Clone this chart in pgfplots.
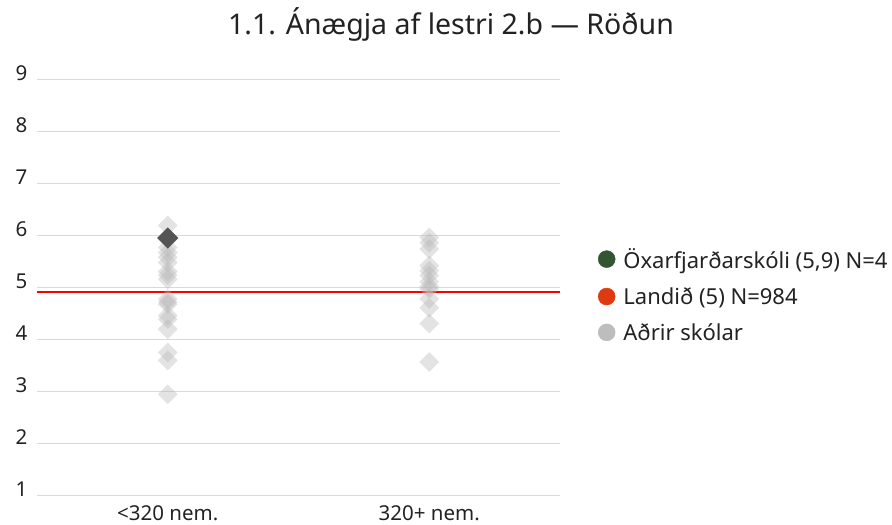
\documentclass[border=0pt]{standalone}
\usepackage{pgfplots}
\pgfplotsset{compat=1.18}
\usepackage{fontspec}
\setmainfont{Noto Sans}
\definecolor{txt}{HTML}{222222}
\definecolor{gridc}{HTML}{D9D9D9}
\definecolor{lightd}{HTML}{B8B8B8}
\definecolor{darkd}{HTML}{555555}
\definecolor{leggreen}{HTML}{335533}
\definecolor{legred}{HTML}{DD3A12}
\definecolor{leggray}{HTML}{BDBDBD}
\begin{document}
\begin{tikzpicture}
\path[use as bounding box] (-37pt,-29.3pt) rectangle (855pt,495.7pt);
\begin{axis}[
  at={(0pt,0pt)}, anchor=south west,
  scale only axis, width=523pt, height=416.4pt,
  xmin=-0.5, xmax=1.5, ymin=1, ymax=9,
  xtick={0,1}, xticklabels={<320 nem., 320+ nem.},
  ytick={1,2,3,4,5,6,7,8,9},
  ymajorgrids, grid style={gridc, line width=1.2pt},
  axis line style={draw=none}, tick style={draw=none},
  clip=false,
  ticklabel style={font=\fontsize{20.5}{24}\selectfont, text=txt},
  /pgf/number format/assume math mode=true,
  yticklabel style={anchor=base east, xshift=-6pt, yshift=-1pt},
  xticklabel style={anchor=base, inner sep=0pt, yshift=-25pt},
  legend style={at={(axis description cs:1.0665,0.604)}, anchor=north west,
    draw=none, fill=none, font=\fontsize{22}{26}\selectfont, text=txt,
    row sep=13.5pt, cells={anchor=west}},
  legend cell align=left,
]
\addlegendimage{legend image code/.code={\fill[leggreen] (0pt,0pt) circle (8.5pt); \path (14.5pt,0pt);}}
\addlegendentry{Öxarfjarðarskóli (5,9) N=4}
\addlegendimage{legend image code/.code={\fill[legred] (0pt,0pt) circle (8.5pt); \path (14.5pt,0pt);}}
\addlegendentry{Landið (5) N=984}
\addlegendimage{legend image code/.code={\fill[leggray] (0pt,0pt) circle (8.5pt); \path (14.5pt,0pt);}}
\addlegendentry{Aðrir skólar}
\addplot[forget plot, only marks, mark=square*, mark size=7pt, color=lightd,
  mark options={rotate=45, fill=lightd, draw opacity=0, fill opacity=0.4}]
  coordinates {
  (0,6.19) (0,5.77) (0,5.67) (0,5.58) (0,5.48) (0,5.31) (0,5.24) (0,5.16)
  (0,4.78) (0,4.72) (0,4.68) (0,4.46) (0,4.39) (0,4.20) (0,3.75) (0,3.60) (0,2.95)
  (1,5.96) (1,5.86) (1,5.74) (1,5.42) (1,5.32) (1,5.23) (1,5.11) (1,5.02)
  (1,4.97) (1,4.78) (1,4.61) (1,4.31) (1,3.57)
};
\addplot[forget plot, only marks, mark=square*, mark size=7.5pt, color=darkd,
  mark options={rotate=45, fill=darkd, draw opacity=0}]
  coordinates {(0,5.95)};
\addplot[forget plot, red, line width=2pt] coordinates {(-0.5,4.92) (1.5,4.92)};
\end{axis}
\node[text=txt, font=\fontsize{28.5}{32}\selectfont, anchor=base] at (414pt,461.4pt) {1.1. Ánægja af lestri 2.b — Röðun};
\end{tikzpicture}
\end{document}
